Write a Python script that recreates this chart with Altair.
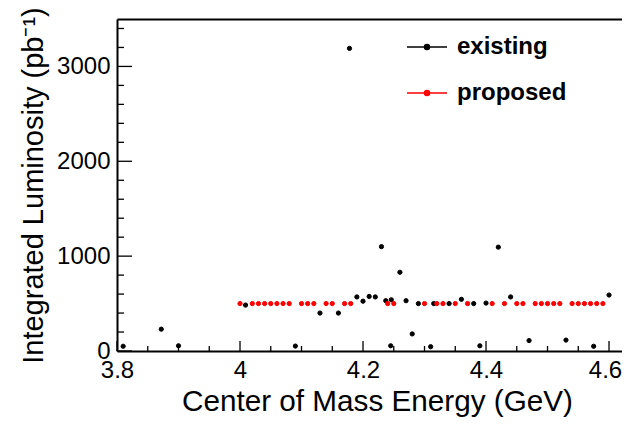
import altair as alt
import pandas as pd

# existing data sets (energy in GeV, luminosity in pb^-1)
ex_energy = [3.81, 3.872, 3.90, 4.009, 4.09, 4.13, 4.16, 4.178, 4.19, 4.20, 4.21, 4.22,
             4.23, 4.237, 4.246, 4.245, 4.26, 4.27, 4.28, 4.29, 4.31, 4.315, 4.34, 4.36,
             4.38, 4.39, 4.40, 4.42, 4.44, 4.47, 4.53, 4.575, 4.60]
ex_lumi = [50, 230, 55, 484, 52, 400, 400, 3190, 570, 525, 575, 570,
           1100, 530, 540, 55, 830, 530, 180, 500, 45, 500, 500, 545,
           500, 55, 505, 1095, 570, 110, 115, 50, 590]

# proposed data sets
pr_energy = [4.00, 4.02, 4.03, 4.04, 4.05, 4.06, 4.07, 4.08, 4.10, 4.11, 4.12, 4.14, 4.15,
             4.17, 4.18, 4.24, 4.25, 4.30, 4.32, 4.33, 4.35, 4.37, 4.41, 4.43, 4.45, 4.46,
             4.48, 4.49, 4.50, 4.51, 4.52, 4.54, 4.55, 4.56, 4.57, 4.58, 4.59]
pr_lumi = [500, 500, 500, 500, 500, 500, 500, 500, 500, 500, 500, 500, 500,
           500, 500, 500, 500, 500, 500, 500, 500, 500, 500, 500, 500, 500,
           500, 500, 500, 500, 500, 500, 500, 500, 500, 500, 500]

series_names = ["existing", "proposed"]
series_colors = ["#000000", "#ff0000"]

x_major = [3.8, 4.0, 4.2, 4.4, 4.6]
x_minor = [3.85, 3.9, 3.95, 4.05, 4.1, 4.15, 4.25, 4.3, 4.35, 4.45, 4.5, 4.55]
y_major = [0, 1000, 2000, 3000]
y_minor = [200, 400, 600, 800, 1200, 1400, 1600, 1800, 2200, 2400, 2600, 2800, 3200, 3400]

df = pd.concat([
    pd.DataFrame({"E": ex_energy, "L": ex_lumi, "series": "existing"}),
    pd.DataFrame({"E": pr_energy, "L": pr_lumi, "series": "proposed"}),
], ignore_index=True)
df["order"] = range(len(df))

W, H = 505, 332
FONT = "Liberation Sans"

xscale = alt.Scale(domain=[3.8, 4.6211], nice=False, zero=False)
yscale = alt.Scale(domain=[0, 3500], nice=False)
cscale = alt.Scale(domain=series_names, range=series_colors)

legend_path = "M-1,0H1M-0.13,0A0.13,0.13,0,1,0,0.13,0A0.13,0.13,0,1,0,-0.13,0Z"

legend = alt.Legend(title=None, orient="none", legendX=289, legendY=7,
                    symbolType=legend_path, symbolSize=1600,
                    symbolStrokeWidth=1.3, labelFontSize=24,
                    labelFontWeight="bold", labelFont=FONT,
                    labelColor="black", labelOffset=9, rowPadding=13,
                    padding=0)

points = alt.Chart(df).mark_circle(size=18, opacity=1, strokeWidth=1).encode(
    x=alt.X("E:Q", scale=xscale,
            axis=alt.Axis(values=x_major, format="~g", ticks=False, grid=False,
                          domainColor="black", domainWidth=2,
                          labelFontSize=24, labelPadding=7, labelColor="black",
                          labelFont=FONT, labelFlush=False,
                          labelOffset={"condition": {"test": "datum.value >= 4.59", "value": -4},
                                       "value": 0},
                          title="Center of Mass Energy (GeV)", titleFontSize=29.7,
                          titleFontWeight="normal", titleFont=FONT, titleColor="black",
                          titlePadding=5, titleX=260, titleAlign="center")),
    y=alt.Y("L:Q", scale=yscale,
            axis=alt.Axis(values=y_major, format="d", ticks=False, grid=False,
                          domainColor="black", domainWidth=2,
                          labelFontSize=24, labelPadding=7, labelColor="black",
                          labelFont=FONT, labelFlush=False,
                          title="Integrated Luminosity (pb⁻¹)", titleFontSize=29,
                          titleFontWeight="normal", titleFont=FONT, titleColor="black",
                          titlePadding=8)),
    fill=alt.Fill("series:N", scale=cscale, legend=legend),
    stroke=alt.Stroke("series:N", scale=cscale, legend=legend),
    order=alt.Order("order:Q"),
)

xmaj = alt.Chart(pd.DataFrame({"v": x_major})).mark_rule(color="black", strokeWidth=1.3).encode(
    x=alt.X("v:Q", scale=xscale,
            axis=alt.Axis(orient="top", labels=False, ticks=False, grid=False, title=None,
                          domainColor="black", domainWidth=2)),
    y=alt.value(H), y2=alt.value(H - 10),
)
xmin = alt.Chart(pd.DataFrame({"v": x_minor})).mark_rule(color="black", strokeWidth=1.3).encode(
    x=alt.X("v:Q", scale=xscale, axis=None),
    y=alt.value(H), y2=alt.value(H - 5),
)
ymaj = alt.Chart(pd.DataFrame({"v": y_major})).mark_rule(color="black", strokeWidth=1.3).encode(
    y=alt.Y("v:Q", scale=yscale, axis=None),
    x=alt.value(0), x2=alt.value(15),
)
ymin = alt.Chart(pd.DataFrame({"v": y_minor})).mark_rule(color="black", strokeWidth=1.3).encode(
    y=alt.Y("v:Q", scale=yscale, axis=None),
    x=alt.value(0), x2=alt.value(7),
)

chart = alt.layer(xmin, xmaj, ymin, ymaj, points).resolve_axis(
    x="independent", y="independent"
).properties(
    width=W, height=H,
    autosize=alt.AutoSizeParams(type="none"),
    padding={"left": 109, "top": 11, "right": 0, "bottom": 66},
    background="white",
).configure_view(stroke=None).configure(font=FONT)

chart.save("out.html", embed_options={"renderer": "svg", "actions": False})
